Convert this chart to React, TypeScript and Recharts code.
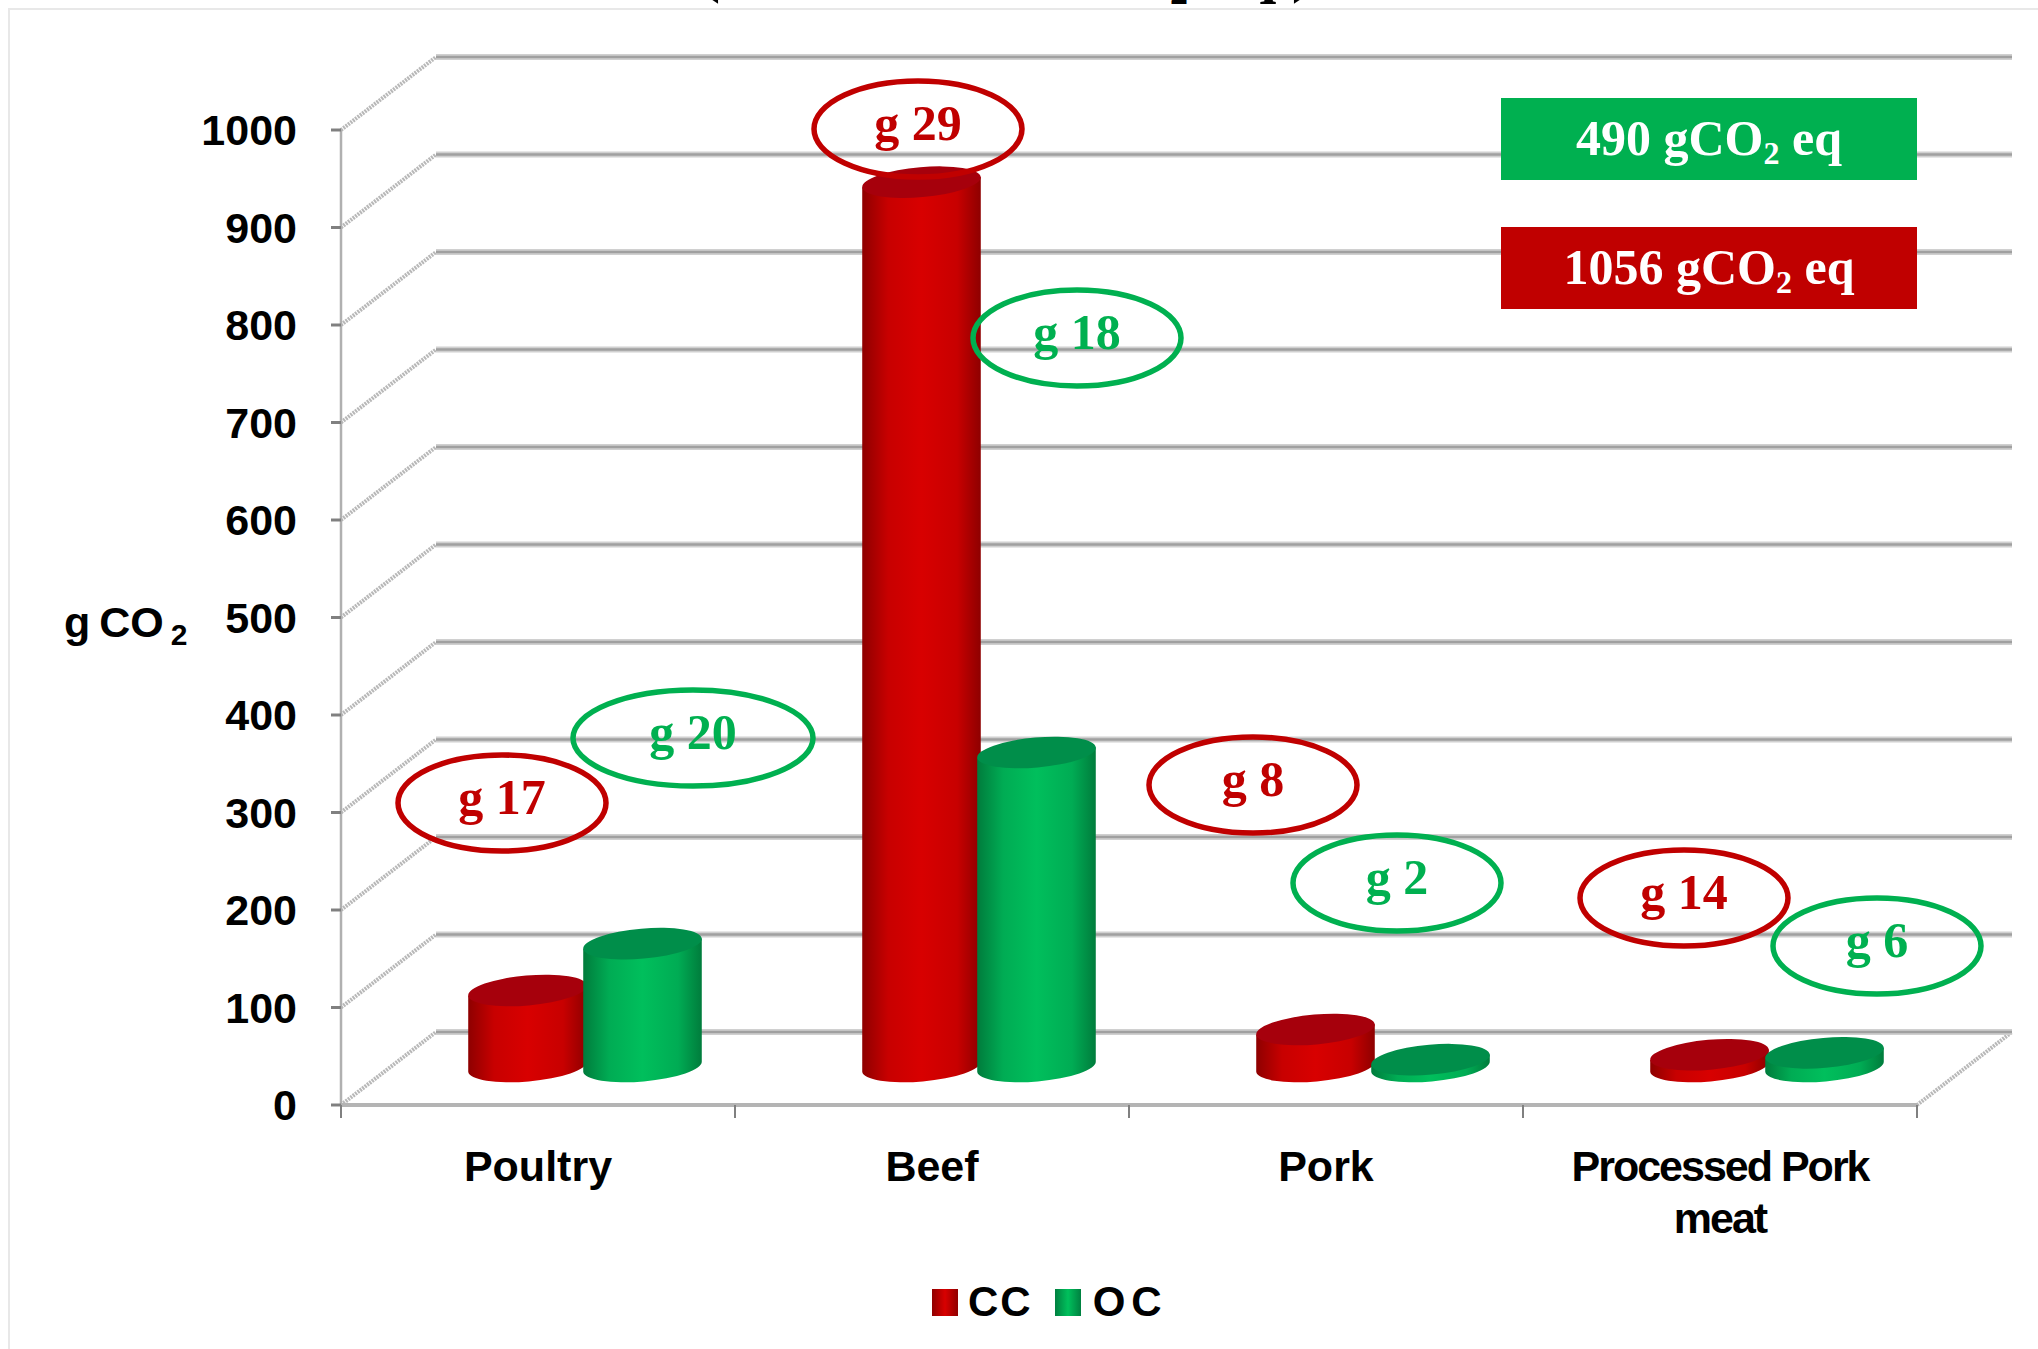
import { BarChart, Bar, XAxis, YAxis, CartesianGrid, Legend } from 'recharts';

const categories = ['Poultry', 'Beef', 'Pork', 'Processed Pork meat'];
const ccValues = [78, 907, 38, 12];
const ocValues = [126, 322, 7, 14];
const yTicks = [0, 100, 200, 300, 400, 500, 600, 700, 800, 900, 1000];

const ccGrams = ['g 17', 'g 29', 'g 8', 'g 14'];
const ocGrams = ['g 20', 'g 18', 'g 2', 'g 6'];
const ccTotal = '1056';
const ocTotal = '490';

const chartData = categories.map((name, i) => ({ name, CC: ccValues[i], OC: ocValues[i] }));

const RED = '#c00000';
const GREEN = '#00b050';

// plot box, in page pixels
const PLOT_LEFT = 341;
const PLOT_RIGHT = 1917;
const PLOT_TOP = 130;
const PLOT_BOTTOM = 1105;
const DEPTH_X = 95;
const DEPTH_Y = 73;
const HALF_BAND = (PLOT_RIGHT - PLOT_LEFT) / 8;

const FONT = '"Liberation Sans", Arial, sans-serif';
const SERIF = '"Liberation Serif", "Times New Roman", serif';

// callout centres follow the order of the gram arrays
const ccSpots = [[502, 803], [918, 129], [1253, 785], [1684, 898]];
const ocSpots = [[693, 738], [1077, 338], [1397, 883], [1877, 946]];
const ocRadii = [120, 104, 104, 104];

const gridLine = (props: any) => {
  const { x1, x2, y1, key } = props;
  const backY = y1 - DEPTH_Y;
  const isFloor = Math.abs(y1 - PLOT_BOTTOM) < 1;
  return (
    <g key={key ?? y1}>
      <line x1={x1} y1={y1} x2={x1 + DEPTH_X} y2={backY} stroke="#b8b8b8" strokeWidth={4} strokeDasharray="2 1" />
      {isFloor && (
        <line x1={x2} y1={y1} x2={x2 + DEPTH_X} y2={backY} stroke="#b8b8b8" strokeWidth={4} strokeDasharray="2 1" />
      )}
      <line x1={x1 + DEPTH_X} y1={backY} x2={x2 + DEPTH_X} y2={backY} stroke="#d0d0d0" strokeWidth={6} />
      <line x1={x1 + DEPTH_X} y1={backY} x2={x2 + DEPTH_X} y2={backY} stroke="#a0a0a0" strokeWidth={2.5} />
    </g>
  );
};

const Cylinder = (props: any) => {
  const { x, y, width, height, gradient, topColor } = props;
  const rx = width / 2 + 2;
  const ry = 15;
  const tilt = 5;
  const dx = rx * Math.cos((tilt * Math.PI) / 180);
  const dy = rx * Math.sin((tilt * Math.PI) / 180);
  const cx = x + width / 2 + 47;
  const top = y - 38.5;
  const bottom = y + height - 38.5;
  const body = `M${cx - dx},${top + dy} L${cx - dx},${bottom + dy} A${rx},${ry} ${-tilt} 0 0 ${cx + dx},${bottom - dy} L${cx + dx},${top - dy} Z`;
  return (
    <g>
      <path d={body} fill={`url(#${gradient})`} />
      <ellipse cx={cx} cy={top} rx={rx} ry={ry} fill={topColor} transform={`rotate(${-tilt} ${cx} ${top})`} />
    </g>
  );
};

const CategoryTick = (props: any) => {
  const { x, payload } = props;
  const words = String(payload.value);
  const isLong = words === 'Processed Pork meat';
  const lines = isLong ? ['Processed Pork', 'meat'] : [words];
  return (
    <g>
      <line x1={x - HALF_BAND} y1={PLOT_BOTTOM} x2={x - HALF_BAND} y2={PLOT_BOTTOM + 13} stroke="#808080" strokeWidth={2} />
      <line x1={x + HALF_BAND} y1={PLOT_BOTTOM} x2={x + HALF_BAND} y2={PLOT_BOTTOM + 13} stroke="#808080" strokeWidth={2} />
      <text
        x={x}
        y={PLOT_BOTTOM + 76}
        textAnchor="middle"
        fontFamily={FONT}
        fontWeight="bold"
        fontSize={43}
        letterSpacing={isLong ? -2 : 0}
        fill="#000"
      >
        {lines.map((line, i) => (
          <tspan key={line} x={x} dy={i === 0 ? 0 : 52}>
            {line}
          </tspan>
        ))}
      </text>
    </g>
  );
};

const YTitle = () => (
  <text x={64} y={637} fontFamily={FONT} fontWeight="bold" fontSize={43} wordSpacing={-3} fill="#000">
    g CO
    <tspan fontSize={30} dx={7} dy={8}>
      2
    </tspan>
  </text>
);

const LegendBox = () => (
  <div style={{ display: 'flex', alignItems: 'center', fontFamily: FONT, fontWeight: 'bold', fontSize: 42, color: '#000' }}>
    <span style={{ width: 26, height: 27, background: 'linear-gradient(90deg,#900000,#d80000,#900000)', marginRight: 10 }} />
    <span style={{ letterSpacing: 2 }}>CC</span>
    <span style={{ width: 26, height: 27, background: 'linear-gradient(90deg,#008040,#00c05c,#008040)', marginLeft: 22, marginRight: 12 }} />
    <span style={{ letterSpacing: 6 }}>OC</span>
  </div>
);

const Callout = ({ text, spot, color, rx = 104 }: { text: string; spot: number[]; color: string; rx?: number }) => (
  <g>
    <ellipse cx={spot[0]} cy={spot[1]} rx={rx} ry={48} fill="none" stroke={color} strokeWidth={5.5} />
    <text x={spot[0]} y={spot[1] + 11} textAnchor="middle" fontFamily={SERIF} fontWeight="bold" fontSize={50} fill={color}>
      {text}
    </text>
  </g>
);

const TotalBox = ({ y, color, total }: { y: number; color: string; total: string }) => (
  <g>
    <rect x={1501} y={y} width={416} height={82} fill={color} />
    <text x={1709} y={y + 57} textAnchor="middle" fontFamily={SERIF} fontWeight="bold" fontSize={50} fill="#fff">
      {total} gCO
      <tspan fontSize={32} dy={9}>2</tspan>
      <tspan dy={-9}> eq</tspan>
    </text>
  </g>
);

export default function App() {
  return (
    <div style={{ position: 'absolute', left: 0, top: 0, width: 2038, height: 1349, background: '#fff', overflow: 'hidden' }}>
      <div style={{ position: 'absolute', left: 8, top: 8, width: 2030, height: 1341, borderLeft: '2px solid #e8e8e8', borderTop: '2px solid #e8e8e8', boxSizing: 'border-box' }} />
      <BarChart
        width={2038}
        height={1349}
        data={chartData}
        barSize={115}
        barGap={0}
        margin={{ top: PLOT_TOP, right: 2038 - PLOT_RIGHT, bottom: 0, left: 0 }}
      >
        <defs>
          <linearGradient id="ccBody" x1="0" y1="0" x2="1" y2="0">
            <stop offset="0" stopColor="#8e0000" />
            <stop offset="0.22" stopColor="#c80000" />
            <stop offset="0.5" stopColor="#d80000" />
            <stop offset="0.8" stopColor="#c80000" />
            <stop offset="1" stopColor="#8e0000" />
          </linearGradient>
          <linearGradient id="ocBody" x1="0" y1="0" x2="1" y2="0">
            <stop offset="0" stopColor="#007c3c" />
            <stop offset="0.22" stopColor="#00ac54" />
            <stop offset="0.5" stopColor="#00bf5c" />
            <stop offset="0.8" stopColor="#00ac54" />
            <stop offset="1" stopColor="#007c3c" />
          </linearGradient>
        </defs>
        <CartesianGrid horizontal={gridLine} vertical={false} />
        <XAxis
          dataKey="name"
          height={1349 - PLOT_BOTTOM}
          interval={0}
          axisLine={{ stroke: '#b4b4b4', strokeWidth: 4 }}
          tickLine={false}
          tick={<CategoryTick />}
        />
        <YAxis
          width={PLOT_LEFT}
          domain={[0, 1000]}
          ticks={yTicks}
          interval={0}
          axisLine={{ stroke: '#b0b0b0', strokeWidth: 2.5 }}
          tickLine={{ stroke: '#808080', strokeWidth: 3 }}
          tickSize={10}
          tickMargin={34}
          tick={{ fontFamily: FONT, fontWeight: 'bold', fontSize: 43, fill: '#000' }}
          label={{ content: () => <YTitle /> }}
        />
        <Bar dataKey="CC" fill={RED} isAnimationActive={false} shape={<Cylinder gradient="ccBody" topColor="#a6000c" />} />
        <Bar dataKey="OC" fill={GREEN} isAnimationActive={false} shape={<Cylinder gradient="ocBody" topColor="#008e4a" />} />
        <Legend
          layout="horizontal"
          verticalAlign="middle"
          align="center"
          content={<LegendBox />}
          wrapperStyle={{ left: 932, top: 1278, width: 300, height: 50 }}
        />
      </BarChart>
      <svg width={2038} height={1349} style={{ position: 'absolute', left: 0, top: 0, pointerEvents: 'none' }}>
        {/* what is left of the cropped title above the frame */}
        <g fontFamily={SERIF} fontWeight="bold" fontSize={60} fill="#000">
          <text x={700} y={-9}>(</text>
          <text x={1170} y={4} fontSize={36}>2</text>
          <text x={1243} y={-9}>q</text>
          <text x={1292} y={-9}>)</text>
        </g>
        <TotalBox y={98} color={GREEN} total={ocTotal} />
        <TotalBox y={227} color={RED} total={ccTotal} />
        {ccGrams.map((text, i) => (
          <Callout key={text} text={text} spot={ccSpots[i]} color={RED} />
        ))}
        {ocGrams.map((text, i) => (
          <Callout key={text} text={text} spot={ocSpots[i]} color={GREEN} rx={ocRadii[i]} />
        ))}
      </svg>
    </div>
  );
}
